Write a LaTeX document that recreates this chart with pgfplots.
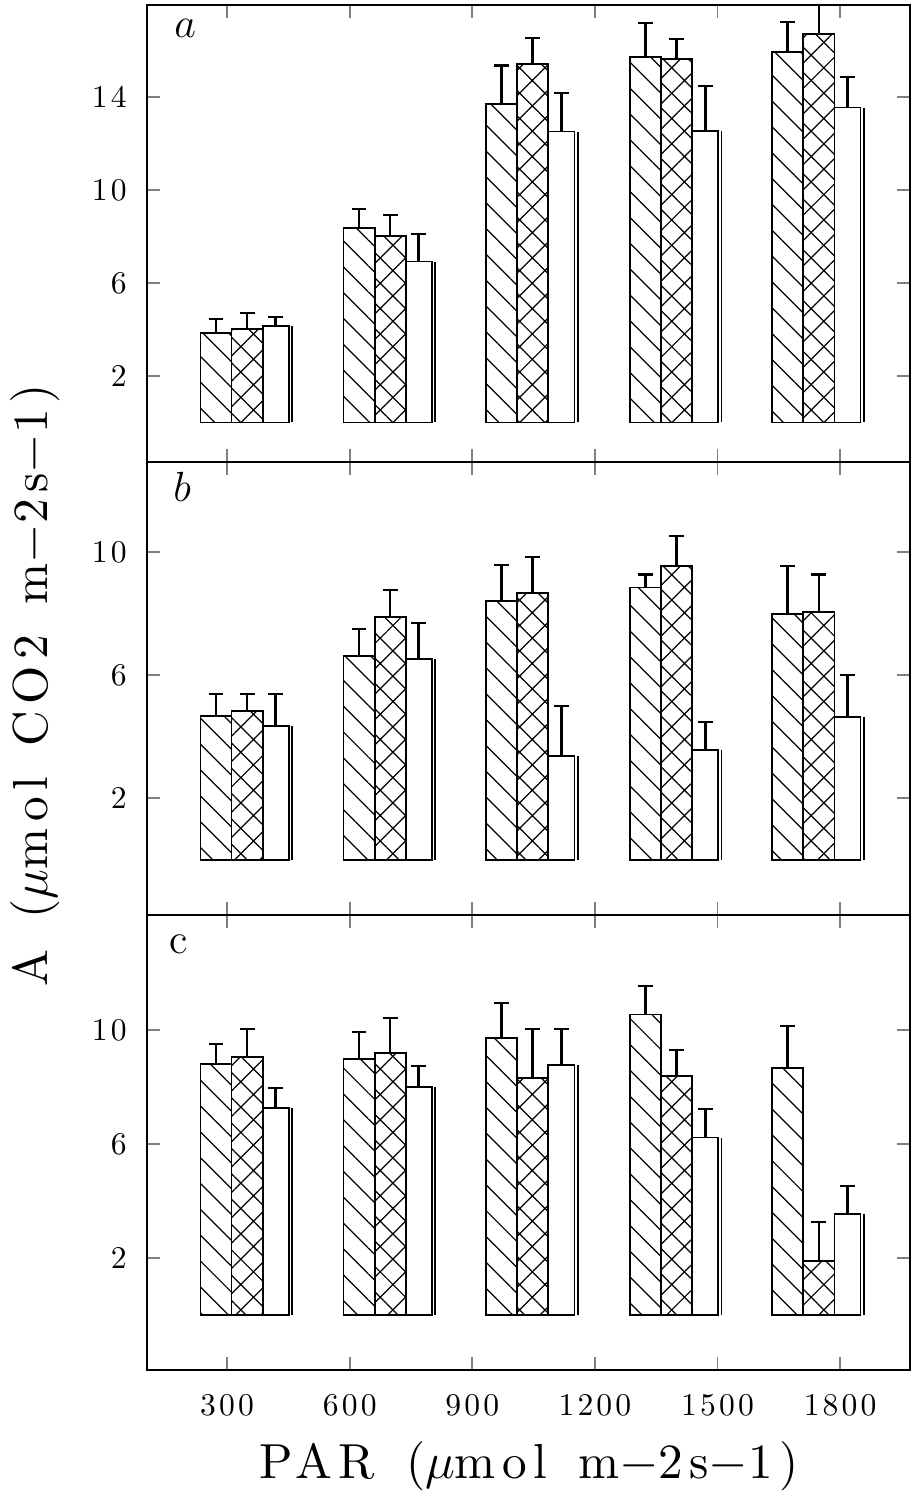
\documentclass[border=0pt]{standalone}
\usepackage{pgfplots}
\pgfplotsset{compat=1.18}
\usepackage{pgfplotstable}
\usetikzlibrary{patterns.meta}
\usepackage{fontspec}
\newfontfamily\lsp{lmroman10-regular}[Extension=.otf,LetterSpace=10]
\newfontfamily\lspw{lmroman10-regular}[Extension=.otf,LetterSpace=13]

% s = left edge of each group; h, c, w = hatched, cross-hatched, open bars; e* = SE (upper only)
\pgfplotstableread{
s    h     eh   c     ec   w     ew
235  3.84  0.60 4.01  0.69 4.15  0.37
585  8.35  0.82 8.02  0.90 6.92  1.17
934  13.68 1.67 15.42 1.13 12.51 1.65
1286 15.73 1.44 15.62 0.86 12.52 1.95
1634 15.94 1.26 16.71 1.50 13.54 1.32
}\panela
\pgfplotstableread{
s    h     eh   c     ec   w     ew
235  4.67  0.71 4.83  0.55 4.34  1.04
585  6.62  0.88 7.89  0.87 6.52  1.18
934  8.41  1.17 8.67  1.17 3.37  1.62
1286 8.85  0.42 9.55  0.97 3.56  0.91
1634 7.99  1.56 8.05  1.22 4.63  1.37
}\panelb
\pgfplotstableread{
s    h     eh   c     ec   w     ew
235  8.81  0.69 9.05  0.99 7.26  0.70
585  8.98  0.95 9.19  1.23 8.00  0.74
934  9.72  1.23 8.32  1.72 8.77  1.27
1286 10.55 1.00 8.39  0.91 6.23  1.00
1634 8.68  1.46 1.89  1.36 3.54  0.99
}\panelc

\pgfplotsset{
  panel/.style={scale only axis, width=7.63cm, xmin=104, xmax=1971,
    xtick={300,600,900,1200,1500,1800}, xticklabels={},
    tick align=inside, major tick length=0.13cm, xtick pos=both, ytick pos=both,
    axis line style={line width=0.5pt}, major tick style={line width=0.55pt},
    yticklabel style={font=\lsp\fontsize{9}{10}\selectfont, xshift=-0.08cm},
    clip mode=individual},
  errs/.style={error bars/.cd, y dir=plus, y explicit, error mark=-,
    error bar style={line width=0.75pt, black},
    error mark options={rotate=90, line width=0.6pt, black, mark size=2.1pt}},
  bars/.style={ybar, bar shift=0pt, draw=black, line width=0.5pt},
  hat/.style={bars, bar width=76, pattern={Lines[angle=-45,distance=5.2pt,line width=0.35pt]}, pattern color=black},
  crs/.style={bars, bar width=76, pattern={Hatch[angle=45,distance=5.1pt,line width=0.35pt]}, pattern color=black},
  opn/.style={bars, bar width=64, fill=white},
}

\newcommand{\drawpanel}[1]{%
  \addplot[hat, errs] table[x expr=\thisrow{s}+38, y=h, y error=eh] {#1};
  \addplot[crs, errs] table[x expr=\thisrow{s}+114, y=c, y error=ec] {#1};
  \addplot[opn, errs] table[x expr=\thisrow{s}+184, y=w, y error=ew] {#1};
  \addplot[ycomb, black, line width=0.5pt] table[x expr=\thisrow{s}+224, y=w] {#1};
}

\begin{document}
\begin{tikzpicture}
\useasboundingbox (0,0) rectangle (9.13,15);

\begin{axis}[panel, at={(1.47cm,10.38cm)}, anchor=south west, height=4.57cm,
  ymin=-1.7, ymax=17.95, ytick={2,6,10,14}, yticklabels={2,6,10,14}]
\drawpanel{\panela}
\node[anchor=base west, font=\fontsize{12}{14}\selectfont] at ([xshift=0.15cm,yshift=-0.33cm]rel axis cs:0,1) {$a$};
\end{axis}

\begin{axis}[panel, at={(1.47cm,5.85cm)}, anchor=south west, height=4.53cm,
  ymin=-1.8, ymax=12.93, ytick={2,6,10}, yticklabels={2,6,10}]
\drawpanel{\panelb}
\node[anchor=base west, font=\fontsize{12}{14}\selectfont] at ([xshift=0.14cm,yshift=-0.40cm]rel axis cs:0,1) {$b$};
\end{axis}

\begin{axis}[panel, at={(1.47cm,1.30cm)}, anchor=south west, height=4.55cm,
  ymin=-1.93, ymax=14.04, ytick={2,6,10}, yticklabels={2,6,10},
  xticklabels={300,600,900,1200,1500,1800},
  xticklabel style={font=\lsp\fontsize{9}{10}\selectfont, yshift=-0.12cm}]
\drawpanel{\panelc}
\node[anchor=base west, font=\fontsize{12}{14}\selectfont] at ([xshift=0.10cm,yshift=-0.38cm]rel axis cs:0,1) {c};
\end{axis}

\node[rotate=90, font=\lspw\fontsize{14}{16}\selectfont] at (0.35,8.15) {A\, ($\mu$mol\, CO2\, m$-$2s$-$1)};
\node[anchor=base, font=\lspw\fontsize{14}{16}\selectfont] at (5.29,0.22) {PAR\, ($\mu$mol\, m$-$2s$-$1)};
\end{tikzpicture}
\end{document}
